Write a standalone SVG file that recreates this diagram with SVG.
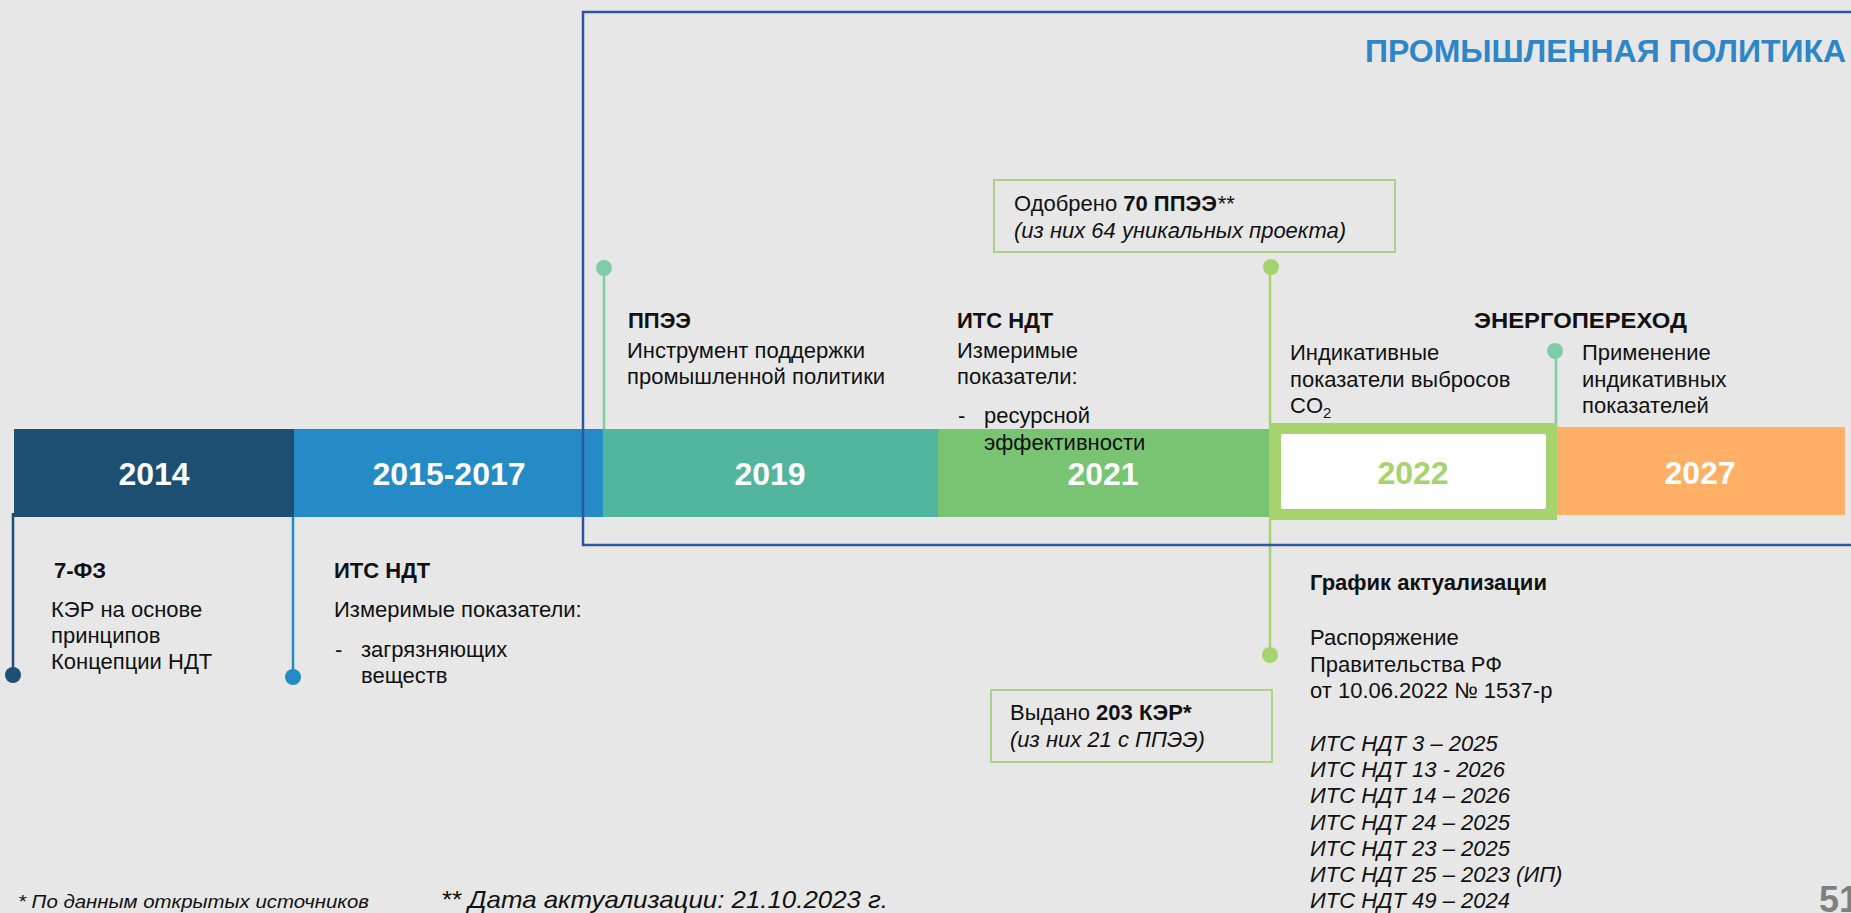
<svg xmlns="http://www.w3.org/2000/svg" width="1851" height="913" viewBox="0 0 1851 913">
  <style>
    .t { font-family: "Liberation Sans", Arial, sans-serif; font-size: 22px; fill: #111; }
    .b { font-weight: bold; }
    .i { font-style: italic; }
    .yr { font-family: "Liberation Sans", Arial, sans-serif; font-size: 32px; font-weight: bold; fill: #fff; text-anchor: middle; }
    .co { font-family: "Liberation Sans", Arial, sans-serif; font-size: 22px; fill: #111; }
    .note { font-family: "Liberation Sans", Arial, sans-serif; font-style: italic; fill: #111; }
    .callout { fill: none; stroke: #a9d486; stroke-width: 2; }
    .ln { fill: none; stroke-width: 2.5; }
  </style>

  <rect x="0" y="0" width="1851" height="913" fill="#e7e7e7"/>

  <!-- connector stems with end dots -->
  <g id="connectors">
    <line class="ln" x1="13" y1="513" x2="13" y2="675" stroke="#1d4f72"/>
    <circle cx="13" cy="675" r="8" fill="#1d4f72"/>
    <line class="ln" x1="293" y1="515" x2="293" y2="677" stroke="#248bc7"/>
    <circle cx="293" cy="677" r="8" fill="#248bc7"/>
    <line class="ln" x1="604" y1="268" x2="604" y2="430" stroke="#80cda5"/>
    <circle cx="604" cy="268" r="8" fill="#80cda5"/>
    <line class="ln" x1="1270" y1="267" x2="1270" y2="655" stroke="#a5d36e"/>
    <circle cx="1271" cy="267" r="8" fill="#a5d36e"/>
    <circle cx="1270" cy="655" r="8" fill="#a5d36e"/>
    <line class="ln" x1="1556" y1="351" x2="1556" y2="433" stroke="#80cda5"/>
    <circle cx="1555" cy="351" r="8" fill="#80cda5"/>
  </g>

  <!-- timeline segments -->
  <g id="seg-2014">
    <rect x="14" y="429" width="280" height="88" fill="#1d4f72"/>
    <text class="yr" x="154" y="485">2014</text>
  </g>
  <g id="seg-2015-2017">
    <rect x="294" y="429" width="309" height="88" fill="#248bc7"/>
    <text class="yr" x="449" y="485">2015-2017</text>
  </g>
  <g id="seg-2019">
    <rect x="603" y="429" width="335" height="88" fill="#52b69f"/>
    <text class="yr" x="770" y="485">2019</text>
  </g>
  <g id="seg-2021">
    <rect x="938" y="429" width="331" height="88" fill="#79c473"/>
    <text class="yr" x="1103" y="485">2021</text>
  </g>
  <g id="seg-2027">
    <rect x="1557" y="427" width="288" height="88" fill="#ffb066"/>
    <text class="yr" x="1700" y="484">2027</text>
  </g>
  <g id="seg-2022">
    <rect x="1269" y="423" width="288" height="97" fill="#a5d36e"/>
    <rect x="1281" y="434" width="265" height="75" rx="2" fill="#fff"/>
    <text class="yr" x="1413" y="484" style="fill:#a5d36e">2022</text>
  </g>

  <!-- industrial policy frame -->
  <g id="policy-frame">
    <rect x="583" y="12" width="1290" height="533" fill="none" stroke="#2f55a0" stroke-width="2.5"/>
    <text x="1365" y="62" font-family="Liberation Sans, Arial, sans-serif" font-size="32" font-weight="bold" fill="#2e86c8" textLength="481" lengthAdjust="spacingAndGlyphs">ПРОМЫШЛЕННАЯ ПОЛИТИКА</text>
  </g>

  <!-- event notes -->
  <g id="note-2014">
    <text class="t b" x="54" y="578">7-ФЗ</text>
    <text class="t" x="51" y="617">КЭР на основе</text>
    <text class="t" x="51" y="643">принципов</text>
    <text class="t" x="51" y="669">Концепции НДТ</text>
  </g>
  <g id="note-2015-2017">
    <text class="t b" x="334" y="578">ИТС НДТ</text>
    <text class="t" x="334" y="617">Измеримые показатели:</text>
    <text class="t" x="335" y="657">-</text>
    <text class="t" x="361" y="657">загрязняющих</text>
    <text class="t" x="361" y="683">веществ</text>
  </g>
  <g id="note-2019">
    <text class="t b" x="628" y="328">ППЭЭ</text>
    <text class="t" x="627" y="358">Инструмент поддержки</text>
    <text class="t" x="627" y="384">промышленной политики</text>
  </g>
  <g id="note-2021">
    <text class="t b" x="957" y="328">ИТС НДТ</text>
    <text class="t" x="957" y="358">Измеримые</text>
    <text class="t" x="957" y="384">показатели:</text>
    <text class="t" x="958" y="423">-</text>
    <text class="t" x="984" y="423">ресурсной</text>
    <text class="t" x="984" y="450">эффективности</text>
  </g>
  <g id="note-2022-top">
    <text class="t" x="1290" y="360">Индикативные</text>
    <text class="t" x="1290" y="387">показатели выбросов</text>
    <text class="t" x="1290" y="413">CO<tspan font-size="15" dy="5">2</tspan></text>
  </g>
  <g id="note-energy">
    <text class="t b" x="1474" y="328" textLength="213" lengthAdjust="spacingAndGlyphs">ЭНЕРГОПЕРЕХОД</text>
    <text class="t" x="1582" y="360">Применение</text>
    <text class="t" x="1582" y="387">индикативных</text>
    <text class="t" x="1582" y="413">показателей</text>
  </g>
  <g id="note-2022-bottom">
    <text class="t b" x="1310" y="590">График актуализации</text>
    <text class="t" x="1310" y="645">Распоряжение</text>
    <text class="t" x="1310" y="672">Правительства РФ</text>
    <text class="t" x="1310" y="698">от 10.06.2022 № 1537-р</text>
    <text class="t i" x="1310" y="751">ИТС НДТ 3 – 2025</text>
    <text class="t i" x="1310" y="777">ИТС НДТ 13 - 2026</text>
    <text class="t i" x="1310" y="803">ИТС НДТ 14 – 2026</text>
    <text class="t i" x="1310" y="830">ИТС НДТ 24 – 2025</text>
    <text class="t i" x="1310" y="856">ИТС НДТ 23 – 2025</text>
    <text class="t i" x="1310" y="882">ИТС НДТ 25 – 2023 (ИП)</text>
    <text class="t i" x="1310" y="908">ИТС НДТ 49 – 2024</text>
  </g>

  <!-- callouts -->
  <g id="callout-ppee">
    <rect class="callout" x="994" y="180" width="401" height="72"/>
    <text class="co" x="1014" y="211">Одобрено <tspan font-weight="bold">70 ППЭЭ</tspan><tspan font-style="italic">**</tspan></text>
    <text class="co i" x="1014" y="238">(из них 64 уникальных проекта)</text>
  </g>
  <g id="callout-ker">
    <rect class="callout" x="991" y="690" width="281" height="72"/>
    <text class="co" x="1010" y="720">Выдано <tspan font-weight="bold">203 КЭР*</tspan></text>
    <text class="co i" x="1010" y="747">(из них 21 с ППЭЭ)</text>
  </g>

  <!-- footnotes and page number -->
  <g id="footnotes">
    <text class="note" x="18" y="908" font-size="18" textLength="351" lengthAdjust="spacingAndGlyphs">* По данным открытых источников</text>
    <text class="note" x="441" y="908" font-size="24" textLength="447" lengthAdjust="spacingAndGlyphs">** Дата актуализации: 21.10.2023 г.</text>
    <text x="1819" y="912" font-family="Liberation Sans, Arial, sans-serif" font-size="36" font-weight="bold" fill="#7f7f7f">51</text>
  </g>
</svg>
